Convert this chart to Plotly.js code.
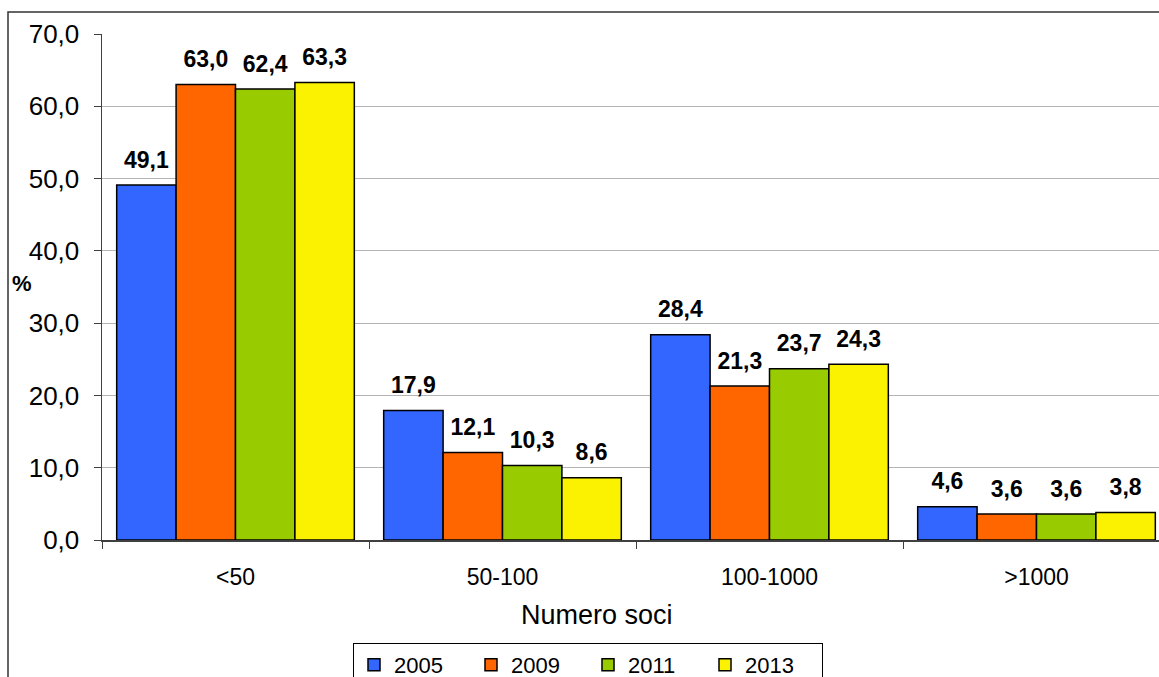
<!DOCTYPE html>
<html>
<head>
<meta charset="utf-8">
<script src="https://cdn.plot.ly/plotly-3.0.1.min.js"></script>
<style>
  html, body { margin: 0; padding: 0; background: #fff; overflow: hidden; }
  #chart { width: 1180px; height: 720px; }
</style>
</head>
<body>
<div id="chart"></div>
<script>
// Categories (member count classes) and shares per survey year, in %
const categories = ['<50', '50-100', '100-1000', '>1000'];
const years = ['2005', '2009', '2011', '2013'];
const share2005 = [49.1, 17.9, 28.4, 4.6];
const share2009 = [63.0, 12.1, 21.3, 3.6];
const share2011 = [62.4, 10.3, 23.7, 3.6];
const share2013 = [63.3, 8.6, 24.3, 3.8];
const yTickValues = [0, 10, 20, 30, 40, 50, 60, 70];

const seriesValues = [share2005, share2009, share2011, share2013];
const seriesColors = ['#3366FF', '#FF6600', '#99CC00', '#FAF200'];
const FONT = 'Liberation Sans, Arial, sans-serif';

const traces = [];
years.forEach((yr, i) => {
  traces.push({
    type: 'bar',
    name: yr,
    x: categories,
    y: seriesValues[i],
    marker: { color: seriesColors[i], line: { color: '#000000', width: 1.5 } },
    hoverinfo: 'skip'
  });
});
// value labels above each bar, grouped the same way as the bars
years.forEach((yr, i) => {
  traces.push({
    type: 'scatter',
    mode: 'markers+text',
    x: categories,
    y: seriesValues[i],
    texttemplate: '%{y:.1f}',
    textposition: 'top center',
    textfont: { family: FONT, size: 23, color: '#000000', weight: 'bold' },
    marker: { size: 17, opacity: 0 },
    showlegend: false,
    cliponaxis: false,
    hoverinfo: 'skip'
  });
});

const W = 1180, H = 720;
const L = 102, R = 10, T = 34, B = 180;
const pw = W - L - R, ph = H - T - B;
const px = v => (v - L) / pw;          // page x -> paper x
const py = v => (H - B - v) / ph;      // page y -> paper y

const layout = {
  width: W, height: H,
  margin: { l: L, r: R, t: T, b: B, pad: 0 },
  paper_bgcolor: '#ffffff',
  plot_bgcolor: '#ffffff',
  separators: ',.',
  barmode: 'group',
  bargap: 0.11,
  bargroupgap: 0,
  scattermode: 'group',
  scattergap: 0.11,
  font: { family: FONT, color: '#000000' },
  showlegend: true,
  legend: {
    orientation: 'h',
    x: px(353), xanchor: 'left',
    y: py(643), yanchor: 'top',
    bgcolor: '#ffffff',
    bordercolor: '#000000',
    borderwidth: 1,
    font: { family: FONT, size: 22, color: '#000000' },
    entrywidth: 72,
    entrywidthmode: 'pixels',
    traceorder: 'normal'
  },
  xaxis: {
    type: 'category',
    showgrid: false,
    showline: true,
    linecolor: '#404040',
    linewidth: 1.5,
    ticks: 'outside',
    tickson: 'boundaries',
    ticklen: 7,
    tickcolor: '#404040',
    tickfont: { family: FONT, size: 23, color: '#000000' },
    ticklabelstandoff: 16,
    zeroline: false,
    fixedrange: true
  },
  yaxis: {
    range: [0, 70],
    tickvals: yTickValues,
    tickformat: '.1f',
    showgrid: true,
    gridcolor: '#b4b4b4',
    gridwidth: 1,
    showline: true,
    linecolor: '#404040',
    linewidth: 1.5,
    ticks: 'outside',
    ticklen: 7,
    tickcolor: '#404040',
    tickfont: { family: FONT, size: 26, color: '#000000' },
    ticklabelstandoff: 9,
    zeroline: false,
    fixedrange: true
  },
  annotations: [
    {
      text: 'Numero soci', xref: 'paper', yref: 'paper',
      x: px(597), y: py(615), xanchor: 'center', yanchor: 'middle',
      showarrow: false, font: { family: FONT, size: 27, color: '#000000' }
    },
    {
      text: '<b>%</b>', xref: 'paper', yref: 'paper',
      x: px(22), y: py(283), xanchor: 'center', yanchor: 'middle',
      showarrow: false, font: { family: FONT, size: 22, color: '#000000' }
    }
  ],
  shapes: [
    {
      type: 'rect', xref: 'paper', yref: 'paper', layer: 'below',
      x0: px(8), x1: px(1176), y0: py(715), y1: py(12),
      line: { color: '#333333', width: 1.5 }, fillcolor: 'rgba(0,0,0,0)'
    }
  ]
};

Plotly.newPlot('chart', traces, layout, { displayModeBar: false, staticPlot: true });
</script>
</body>
</html>
